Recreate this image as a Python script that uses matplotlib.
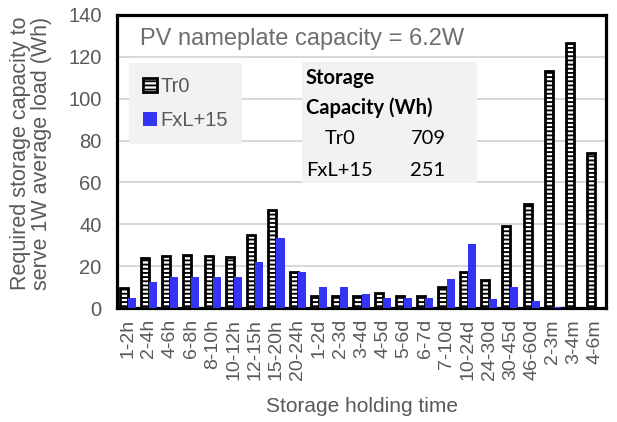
import matplotlib
matplotlib.use("Agg")
import matplotlib.pyplot as plt
import numpy as np
from matplotlib.patches import Rectangle

categories = ["1-2h", "2-4h", "4-6h", "6-8h", "8-10h", "10-12h", "12-15h", "15-20h",
              "20-24h", "1-2d", "2-3d", "3-4d", "4-5d", "5-6d", "6-7d", "7-10d",
              "10-24d", "24-30d", "30-45d", "46-60d", "2-3m", "3-4m", "4-6m"]
tr0 = [9.6, 23.8, 25.0, 25.4, 25.0, 24.3, 34.7, 47.0, 17.0, 5.9, 5.9, 5.8, 7.0,
       5.8, 5.8, 10.2, 17.0, 13.3, 39.0, 49.6, 113.4, 126.4, 74.0]
fxl = [4.8, 12.6, 14.6, 15.0, 15.0, 15.0, 21.9, 33.6, 17.0, 10.2, 10.2, 6.6, 4.8,
       4.8, 4.8, 13.9, 30.4, 4.2, 10.2, 3.5, 0.6, 0.0, 0.0]
series_names = ["Tr0", "FxL+15"]
yticks = [0, 20, 40, 60, 80, 100, 120, 140]
table_rows = [("Tr0", "709"), ("FxL+15", "251")]

W, H = 617, 422
plt.rcParams["font.family"] = ["Liberation Sans", "DejaVu Sans"]
plt.rcParams["hatch.linewidth"] = 1.35
fig = plt.figure(figsize=(W / 100, H / 100), dpi=100)

L, R, T, B = 117, 606, 15, 308
ax = fig.add_axes([L / W, 1 - B / H, (R - L) / W, (B - T) / H])

GRAY = "#595959"
BLUE = "#3434f5"
x = np.arange(len(categories))
w = 0.38
b1 = ax.bar(x - w / 2, tr0, w, facecolor="white", edgecolor="black",
            hatch="----", linewidth=2.0, zorder=3, label=series_names[0])
b2 = ax.bar(x + w / 2, fxl, w, color=BLUE, linewidth=0, zorder=3,
            label=series_names[1])

ax.set_xlim(-0.5, len(categories) - 0.5)
ax.set_ylim(0, 140)
ax.set_yticks(yticks)
ax.set_xticks(x)
ax.set_xticklabels(categories, rotation=90, fontsize=14, color=GRAY)
ax.tick_params(axis="y", length=0, pad=11, labelsize=14.5, labelcolor=GRAY)
ax.tick_params(axis="x", length=0, pad=8)
ax.yaxis.grid(True, color="#d4d4d4", linewidth=1.3, zorder=0)
ax.set_axisbelow(True)
for s in ax.spines.values():
    s.set_linewidth(2.3)
    s.set_color("black")

ax.set_xlabel("Storage holding time", fontsize=15, color=GRAY)
ax.xaxis.set_label_coords(0.5, -(407 - B) / (B - T))
ax.xaxis.label.set_va("center")

fig.text(31 / W, 1 - 153 / H,
         "Required storage capacity to\nserve 1W average load (Wh)",
         rotation=90, ha="center", va="center", fontsize=15.5, color=GRAY,
         linespacing=1.0, multialignment="center")

def fx(px):
    return px / W

def fy(py):
    return 1 - py / H

# title text inside plot
fig.text(fx(140), fy(39), "PV nameplate capacity = 6.2W", fontsize=17,
         color="#6e6e6e", ha="left", va="center")

# legend
leg = ax.legend(handles=[b1, b2], labels=series_names, loc="upper left",
                bbox_to_anchor=(fx(129), fy(63)), bbox_transform=fig.transFigure,
                frameon=True, fancybox=False, facecolor="#f2f2f2",
                edgecolor="none", framealpha=1, fontsize=14.5,
                handlelength=0.7, handleheight=0.7, handletextpad=0.15,
                labelspacing=0.75, borderpad=0.7, borderaxespad=0)
for t in leg.get_texts():
    t.set_color(GRAY)

# storage capacity table
fig.patches.append(Rectangle((fx(302), fy(183)), fx(477) - fx(302), fy(62) - fy(183),
                             transform=fig.transFigure, facecolor="#f2f2f2",
                             edgecolor="none", zorder=1))
tf = ["Lato", "DejaVu Sans"]
fs = 14.5
fig.text(fx(306), fy(78), "Storage", family=tf, fontweight="bold", fontsize=fs,
         ha="left", va="center", color="black")
fig.text(fx(306), fy(108), "Capacity (Wh)", family=tf, fontweight="bold",
         fontsize=fs, ha="left", va="center", color="black")
row_y = [138, 170]
for (name, val), yy in zip(table_rows, row_y):
    fig.text(fx(340), fy(yy), name, family=tf, fontsize=fs, ha="center",
             va="center", color="black")
    fig.text(fx(428), fy(yy), val, family=tf, fontsize=fs, ha="center",
             va="center", color="black")

fig.savefig("out.png", dpi=100)
